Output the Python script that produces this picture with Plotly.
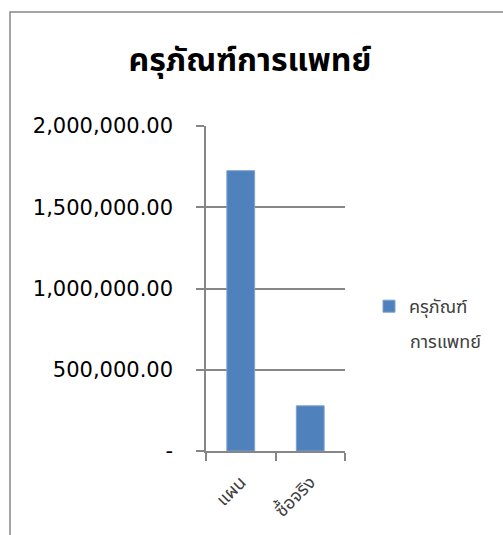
import plotly.graph_objects as go

# Data
categories = ["แผน", "ซื้อจริง"]
values = [1725000, 278000]
series_name = "ครุภัณฑ์การแพทย์"
legend_line1 = "ครุภัณฑ์"
legend_line2 = "การแพทย์"
y_tickvals = [0, 500000, 1000000, 1500000, 2000000]
y_ticktext = ["-", "500,000.00", "1,000,000.00", "1,500,000.00", "2,000,000.00"]

W, H = 503, 535
L, R, T, B = 206, 158, 126, 84
pw, ph = W - L - R, H - T - B

def px_x(x):
    return (x - L) / pw

def px_y(y):
    return (H - B - y) / ph

thai_font = "Tahoma, 'Noto Sans Thai', 'Noto Sans', sans-serif"
num_font = "'DejaVu Sans', sans-serif"
axis_grey = "#868686"

fig = go.Figure()
fig.add_trace(go.Bar(
    x=categories,
    y=values,
    name=legend_line1,
    marker=dict(color="#4F81BD", line=dict(color="#7EA1D0", width=1)),
    showlegend=True,
))

fig.update_layout(
    width=W, height=H,
    margin=dict(l=L, r=R, t=T, b=B),
    paper_bgcolor="white",
    plot_bgcolor="white",
    bargap=0.6,
    font=dict(family=thai_font, color="#000000"),
    title=dict(
        text="<b>" + series_name + "</b>",
        x=250 / W, xanchor="center",
        y=1 - 60 / H, yanchor="middle",
        font=dict(size=32, color="#000000", family=thai_font),
    ),
    legend=dict(
        x=px_x(369), y=px_y(288), xanchor="left", yanchor="top",
        valign="middle",
        font=dict(size=18, color="#404040", family=thai_font),
        itemwidth=30,
        bgcolor="rgba(0,0,0,0)",
    ),
    annotations=[
        dict(text=legend_line2, xref="paper", yref="paper",
             x=px_x(408), y=px_y(342), xanchor="left", yanchor="middle",
             showarrow=False,
             font=dict(size=18, color="#404040", family=thai_font)),
    ],
    xaxis=dict(
        showline=True, linecolor=axis_grey, linewidth=1.5,
        ticks="outside", tickson="boundaries", ticklen=8,
        tickcolor=axis_grey, tickwidth=1.5,
        tickangle=-45,
        ticklabelstandoff=12,
        tickfont=dict(size=18, color="#404040", family=thai_font),
        showgrid=False,
    ),
    yaxis=dict(
        range=[0, 2000000],
        tickvals=y_tickvals, ticktext=y_ticktext,
        showline=True, linecolor=axis_grey, linewidth=1.5,
        ticks="outside", ticklen=8, tickcolor=axis_grey, tickwidth=1.5,
        ticklabelstandoff=19,
        showgrid=True, gridcolor=axis_grey, gridwidth=1.5,
        zeroline=False,
        tickfont=dict(size=21, color="#000000", family=num_font),
    ),
    shapes=[
        # outer chart frame
        dict(type="rect", xref="paper", yref="paper",
             x0=px_x(10), x1=px_x(W + 20), y0=px_y(H + 20), y1=px_y(12),
             line=dict(color=axis_grey, width=1.5), layer="below"),
    ],
)

fig.write_html("out.html")
